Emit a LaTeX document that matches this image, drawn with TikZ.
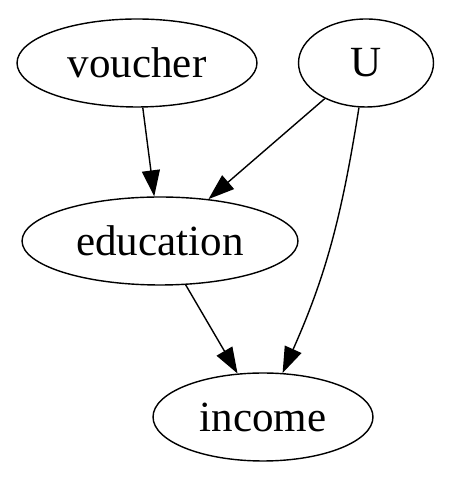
\documentclass[tikz,border=0pt]{standalone}
\usepackage{fontspec}
\setmainfont{Liberation Serif}
\usetikzlibrary{arrows.meta,shapes.geometric}

\begin{document}
\begin{tikzpicture}[x=0.02cm,y=0.02cm,
	var/.style={draw,ellipse,line width=0.8pt,minimum height=1.76cm,inner sep=0pt,font=\fontsize{24.5}{28}\selectfont},
	edge/.style={line width=0.8pt,-{Triangle[length=0.52cm,width=0.36cm]}}]
	%% page size
	\useasboundingbox (0,0) rectangle (452,482);

	\node[var,minimum width=4.8cm] (voucher) at (137,419) {voucher};
	\node[var,minimum width=2.7cm] (U) at (366,419) {U};
	\node[var,minimum width=5.52cm] (education) at (160,241) {education};
	\node[var,minimum width=4.4cm] (income) at (263,65) {income};

	% edges
	\draw[edge] (voucher) -- (education);
	\draw[edge] (U) -- (education);
	\draw[edge] (education) -- (income);
	\draw[edge] (U) to[out=-99,in=66] (income);
\end{tikzpicture}
\end{document}
